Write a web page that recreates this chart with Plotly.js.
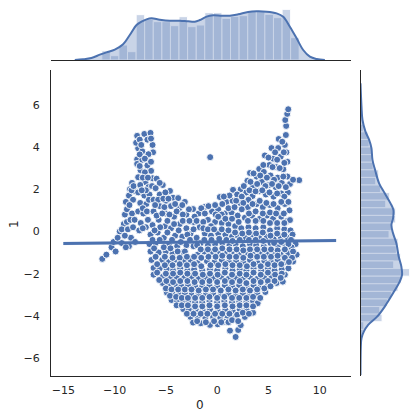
<!DOCTYPE html>
<html>
<head>
<meta charset="utf-8">
<script src="https://cdn.plot.ly/plotly-3.0.1.min.js"></script>
<style>html,body{margin:0;padding:0;background:#fff}</style>
</head>
<body>
<div id="chart" style="width:419px;height:420px"></div>
<script>
// [x, y] pairs, one list per region of the cloud
const leftArm = [[-11.2,-1.3],[-10.8,-1.1],[-10.3,-0.75],[-10.1,-0.5],[-9.9,-0.95],[-9.5,0],[-9.7,-0.3],[-9.3,-0.55],[-9.1,0.35],[-9.3,0.1],[-9,0.8],[-8.8,0.45],[-8.8,1.05],[-8.9,1.4],[-8.7,0.1],[-8.5,2],[-8.6,1.7],[-8.3,2.3],[-8.4,-0.3],[-8.6,-0.7],[-8.2,0.2],[-8.3,0.85],[-8.2,1.5],[-8,1.9],[-9,-0.2],[-8.9,-0.75],[-8.55,1.25],[-8.45,0.55],[-8,-0.5],[-8.05,0.55],[-8.35,1.95],[-8.15,2.15]];
const spike = [[-7.8,4.53],[-7.1,4.62],[-6.5,4.67],[-6.3,4.1],[-6.25,3.75],[-7.7,3.94],[-7.9,4.2],[-6.8,4.35],[-6.7,3.66],[-7.3,3.8],[-7.8,3.42],[-7.8,3.2],[-6.8,3.13],[-7.47,2.9],[-6.44,2.87],[-7.7,2.57],[-6.3,2.52],[-7,2.33],[-7.3,3.4],[-7.05,2.8],[-7.5,2.2],[-6.7,2.1],[-7.7,1.85],[-7.1,1.7],[-6.6,1.75],[-7.5,1.35],[-6.9,1.3],[-7.7,0.95],[-7.2,0.85],[-7.45,0.4],[-6.95,0.2],[-7.6,0.05],[-7.55,4.35],[-7.4,4.1],[-6.45,4.4],[-7.55,3.65],[-7.05,3.45],[-6.45,3.3],[-7.55,3.1],[-7.25,2.55],[-6.75,2.55],[-6.95,1.95],[-7.35,1.95],[-6.35,2.15],[-7.25,1.1],[-6.85,0.95],[-6.75,0.55],[-7.25,0.15],[-6.65,1.5]];
const outliers = [[-0.68,3.52],[8,2.43],[1.8,-5],[1.25,-4.7],[2.05,-4.67],[2.3,-4.44],[6.73,5],[6.64,5.28],[6.83,5.57],[6.93,5.79]];
const rightPeak = [[6.7,4.57],[6,4.38],[6.6,4.1],[5.3,3.95],[5.95,3.95],[6.75,3.75],[4.65,3.6],[5.45,3.45],[6.2,3.55],[6.85,3.3],[5.1,3.15],[4.1,2.96],[5.75,3.05],[6.45,2.95],[4.55,2.82],[3.2,2.77],[3.85,2.6],[5.2,2.65],[5.9,2.55],[6.85,2.6],[2.95,2.4],[4.35,2.35],[5.05,2.2],[6.3,2.3],[7.1,2.25],[7.4,2.45],[3.5,2.15],[5.7,2.1],[2.3,2],[1.55,1.97],[2.85,1.85],[4.1,1.9],[4.75,1.75],[6.25,1.8],[6.9,1.85],[5.5,1.65],[3.45,1.68],[6.35,4.25],[5.65,3.75],[6.5,3.75],[5,3.5],[5.85,3.4],[6.55,3.25],[4.5,3.15],[5.4,3.05],[6.1,3],[3.55,2.75],[4.2,2.65],[4.85,2.55],[5.55,2.45],[6.45,2.6],[3.25,2.35],[3.9,2.25],[4.7,2.15],[5.35,2.25],[6,2.15],[6.7,2.1],[2.6,2.15],[3.15,1.95],[3.75,1.9],[4.4,1.95],[5.1,1.85],[5.85,1.8],[6.55,1.65],[1.95,1.75],[2.4,1.65],[3.05,1.5]];
const bodyUpper = [[-5.9,2.5],[-5.3,2.2],[-6,2.05],[-5.6,1.75],[-4.6,1.92],[-5,1.45],[-6.2,1.5],[-4.3,1.6],[-3.8,1.58],[-5.6,1.2],[-4.5,1.2],[-3.15,1.4],[-3.7,1.1],[-6.2,0.95],[-5,0.85],[-2.35,1.06],[-1.2,1.16],[-3,0.8],[-4.2,0.7],[-5.7,0.55],[-1.8,0.85],[-0.5,0.95],[0.26,1.63],[0.1,1.05],[0.9,1.4],[1.5,1.45],[2.25,1.35],[3,1.15],[3.85,1.3],[4.45,1.15],[5.15,1.25],[5.9,1.1],[6.6,1.3],[7.05,1],[0.75,0.85],[1.4,0.9],[2,0.75],[2.7,0.65],[3.4,0.75],[4.15,0.6],[4.85,0.75],[5.45,0.6],[6.25,0.7],[6.85,0.5],[7.1,0.54],[-0.9,0.55],[-0.2,0.45],[0.45,0.4],[1.1,0.35],[1.75,0.25],[2.35,0.15],[3.05,0.2],[3.75,0.15],[4.5,0.2],[5.15,0.05],[5.85,0.15],[6.55,0.1],[7.15,0.05],[-6.3,0.3],[-5.1,0.25],[-4.5,0.15],[-3.65,0.35],[-3,0.15],[-2.3,0.45],[-1.7,0.2],[-6.5,-0.15],[-5.8,-0.05],[-5.2,-0.3],[-4.1,-0.2],[-3.4,-0.25],[-2.6,-0.1],[-2,-0.3],[-1.2,-0.1],[-0.6,-0.2],[0.1,-0.1],[0.8,-0.15],[1.45,-0.25],[2,-0.2],[2.8,-0.3],[3.4,-0.15],[4.1,-0.3],[4.85,-0.25],[5.5,-0.35],[6.2,-0.25],[6.9,-0.3],[7.35,-0.15]];
const bodyUpperFill = [[-5.6,2.3],[-5.05,1.85],[-5.75,1.5],[-5.25,1.55],[-4.75,1.55],[-6.05,1.25],[-5.15,1.15],[-4.1,1.3],[-3.4,1.25],[-5.9,0.75],[-5.35,0.85],[-4.65,0.8],[-3.95,0.95],[-3.35,0.8],[-2.75,1.05],[-2.2,0.7],[-1.55,1.1],[-0.85,1.2],[-0.2,1.25],[0.5,1.3],[1.2,1.7],[0.65,1.65],[1.85,1.45],[2.55,1.35],[3.45,1.3],[4.15,1.45],[4.8,1.35],[5.5,1.3],[6.25,1.4],[6.95,1.4],[-1.2,0.85],[-0.15,0.8],[0.45,0.8],[1.1,1.1],[1.7,1.15],[2.4,1.05],[3.1,0.85],[3.75,0.95],[4.45,0.85],[5.15,0.9],[5.75,0.85],[6.5,0.85],[-5.55,0.2],[-4.85,0.5],[-4.2,0.35],[-3.35,0.5],[-2.7,0.5],[-2,0.5],[-1.35,0.45],[-0.6,0.25],[0.1,0.7],[0.8,0.6],[1.45,0.6],[2.1,0.45],[3,0.5],[3.75,0.5],[4.5,0.5],[5.15,0.4],[5.85,0.4],[6.55,0.4],[-6.1,0.05],[-4.85,-0.05],[-3.75,0.05],[-2.9,-0.15],[-2.3,0.1],[-1.35,0.15],[-0.9,0.1],[-0.3,0.1],[0.45,0.1],[1.1,0.05],[1.75,-0.05],[2.45,-0.1],[3.1,-0.05],[3.8,-0.1],[4.45,-0.05],[5.2,-0.2],[5.85,-0.1],[6.55,-0.15],[7.2,-0.4]];
const bodyMiddle = [[-6.6,-0.6],[-6,-0.55],[-4.7,-0.6],[-3.9,-0.7],[-3,-0.65],[-2.3,-0.7],[-1.6,-0.55],[-0.9,-0.65],[-0.2,-0.6],[0.5,-0.55],[1.2,-0.65],[1.8,-0.6],[2.5,-0.7],[3.2,-0.6],[3.8,-0.65],[4.55,-0.7],[5.2,-0.55],[5.9,-0.7],[6.6,-0.6],[7.65,-0.6],[7.25,-0.75],[-6.5,-0.95],[-5.7,-1],[-5,-0.95],[-4.35,-1.05],[-3.5,-1],[-1.9,-1.1],[-1.25,-0.95],[-0.55,-1.05],[0.15,-1],[0.85,-1.05],[1.5,-0.95],[2.2,-1.1],[2.9,-1],[3.5,-1.1],[4.25,-1],[4.9,-1.05],[5.55,-1],[6.2,-1.1],[6.95,-1.05],[7.75,-1.1],[-6.4,-1.35],[-5.35,-1.35],[-4.7,-1.45],[-4,-1.35],[-3.25,-1.4],[-2.6,-1.35],[-1.9,-1.5],[-1,-1.4],[-0.25,-1.45],[0.45,-1.35],[1.15,-1.45],[1.85,-1.4],[2.55,-1.45],[3.2,-1.35],[3.95,-1.5],[4.6,-1.4],[5.25,-1.45],[5.9,-1.35],[6.6,-1.45],[7.4,-1.43],[-6.2,-1.73],[-5.6,-1.75],[-4.9,-1.8],[-4.3,-1.85],[-3.6,-1.75],[-2.9,-1.85],[-2.25,-1.8],[-1.45,-1.85],[-0.7,-1.8],[0,-1.85],[0.8,-1.75],[1.5,-1.85],[2.2,-1.8],[2.85,-1.85],[3.55,-1.75],[4.3,-1.85],[4.95,-1.75],[5.6,-1.85],[6.3,-1.8],[6.95,-1.75],[-6.2,-2.05],[-5.3,-2.15],[-4.6,-2.2],[-3.95,-2.15],[-3.2,-2.2],[-2.5,-2.15],[-1.8,-2.25],[-1.1,-2.2],[-0.35,-2.2],[0.4,-2.15],[1.1,-2.25],[1.85,-2.2],[2.5,-2.25],[3.2,-2.15],[3.9,-2.25],[4.6,-2.2],[5.3,-2.15],[5.95,-2.2],[6.6,-2.05]];
const bodyMiddleFill = [[-6.3,-0.4],[-5.6,-0.4],[-5.2,-0.75],[-4.4,-0.4],[-3.55,-0.5],[-2.65,-0.4],[-1.95,-0.65],[-1.25,-0.4],[-0.55,-0.4],[0.2,-0.35],[0.9,-0.4],[1.5,-0.45],[2.2,-0.4],[3.1,-0.4],[3.75,-0.4],[4.5,-0.45],[5.55,-0.55],[6.25,-0.5],[6.95,-0.6],[-6.15,-0.8],[-4.55,-0.8],[-3.85,-0.95],[-3.15,-0.95],[-1.6,-0.85],[-0.9,-0.85],[-0.2,-0.85],[0.5,-0.8],[1.2,-0.85],[1.9,-0.85],[2.55,-0.9],[3.2,-0.85],[3.9,-0.85],[4.6,-0.85],[5.25,-0.85],[5.9,-0.9],[6.6,-0.85],[7.4,-0.95],[-6,-1.2],[-5.1,-1.2],[-4.35,-1.25],[-3.65,-1.25],[-2.95,-1.2],[-2.25,-1.2],[-1.55,-1.25],[-0.85,-1.2],[-0.15,-1.2],[0.5,-1.15],[1.2,-1.2],[1.85,-1.2],[2.55,-1.25],[3.25,-1.15],[3.9,-1.2],[4.55,-1.2],[5.25,-1.2],[5.9,-1.15],[6.6,-1.25],[7.3,-1.25],[-5.85,-1.55],[-5.1,-1.6],[-4.35,-1.6],[-3.65,-1.55],[-2.95,-1.6],[-2.25,-1.55],[-1.55,-1.65],[-0.65,-1.6],[0.1,-1.6],[0.8,-1.55],[1.5,-1.6],[2.2,-1.6],[2.9,-1.65],[3.55,-1.55],[4.25,-1.65],[4.95,-1.55],[5.6,-1.6],[6.25,-1.55],[7,-1.45],[-5.85,-1.95],[-5,-2],[-4.3,-2],[-3.6,-1.95],[-2.9,-2],[-2.15,-2],[-1.4,-2.05],[-0.7,-2],[0.05,-2.05],[0.75,-1.95],[1.45,-2.05],[2.2,-2],[2.85,-2.05],[3.55,-1.95],[4.25,-2.05],[4.95,-1.95],[5.65,-2.05],[6.3,-2]];
const bodyLower = [[-5.3,-2.45],[-4.7,-2.55],[-4.1,-2.55],[-3.5,-2.6],[-2.85,-2.55],[-2.15,-2.6],[-1.45,-2.6],[-0.75,-2.55],[0,-2.6],[0.75,-2.55],[1.45,-2.6],[2.15,-2.55],[2.85,-2.6],[3.55,-2.55],[4.25,-2.6],[4.95,-2.55],[5.8,-2.44],[6.4,-2.38],[-4.9,-2.9],[-4.3,-2.95],[-3.75,-2.95],[-3.15,-2.95],[-2.5,-3],[-1.8,-2.95],[-1.1,-3],[-0.4,-2.95],[0.35,-3],[1.1,-2.95],[1.8,-3],[2.5,-2.95],[3.2,-3],[3.9,-2.95],[4.7,-2.87],[-4.45,-3.25],[-3.9,-3.3],[-3.3,-3.35],[-2.8,-3.3],[-2.15,-3.35],[-1.45,-3.35],[-0.75,-3.3],[0,-3.35],[0.7,-3.3],[1.45,-3.35],[2.15,-3.3],[2.85,-3.35],[3.5,-3.3],[3.95,-3.4],[-3.3,-3.68],[-2.75,-3.7],[-2.1,-3.7],[-1.4,-3.75],[-0.7,-3.7],[0.05,-3.75],[0.8,-3.7],[1.5,-3.75],[2.2,-3.7],[2.85,-3.7],[3.5,-3.85],[-2.6,-4.05],[-1.9,-4.05],[-1.15,-4.1],[-0.4,-4.05],[0.3,-4.1],[1,-4.05],[1.7,-4.1],[2.7,-4.05],[-2.35,-4.32],[-1.6,-4.35],[-0.7,-4.43],[0.05,-4.4],[0.75,-4.28]];
const bodyLowerFill = [[-5.65,-2.3],[-4.95,-2.35],[-4.3,-2.4],[-3.6,-2.35],[-2.9,-2.35],[-2.2,-2.4],[-1.45,-2.4],[-0.75,-2.35],[0,-2.4],[0.75,-2.35],[1.45,-2.4],[2.2,-2.35],[2.85,-2.45],[3.55,-2.35],[4.25,-2.4],[4.95,-2.35],[5.6,-2.35],[6.2,-2.2],[-5,-2.7],[-4.45,-2.75],[-3.8,-2.75],[-3.15,-2.75],[-2.5,-2.75],[-1.8,-2.8],[-1.1,-2.75],[-0.4,-2.75],[0.35,-2.8],[1.1,-2.75],[1.8,-2.8],[2.5,-2.75],[3.2,-2.8],[3.9,-2.75],[4.6,-2.7],[5.2,-2.6],[-4.6,-3.05],[-4,-3.1],[-3.45,-3.15],[-2.85,-3.15],[-2.15,-3.15],[-1.45,-3.15],[-0.75,-3.1],[0,-3.15],[0.7,-3.1],[1.45,-3.15],[2.15,-3.15],[2.85,-3.15],[3.5,-3.1],[4.2,-3.15],[-3.95,-3.5],[-3.45,-3.5],[-2.85,-3.5],[-2.15,-3.55],[-1.45,-3.55],[-0.75,-3.5],[0,-3.55],[0.75,-3.5],[1.5,-3.55],[2.2,-3.5],[2.85,-3.5],[3.5,-3.55],[-2.95,-3.9],[-2.3,-3.9],[-1.6,-3.9],[-0.95,-3.9],[-0.2,-3.9],[0.5,-3.9],[1.2,-3.9],[1.95,-3.95],[2.5,-3.85],[3.1,-3.9],[-1.95,-4.25],[-1.1,-4.3],[-0.3,-4.25],[0.4,-4.3],[1.1,-4.3],[1.45,-4.2],[2.05,-4.25]];

// marginal histograms, heights in the same arbitrary unit as the kde curves
const topBinCenters = [-10.83,-9.99,-9.16,-8.32,-7.48,-6.65,-5.81,-4.97,-4.14,-3.3,-2.46,-1.62,-0.79,0.05,0.89,1.72,2.56,3.4,4.24,5.07,5.91,6.75,7.58];
const topBinHeights = [28,13,45,25,136,122,115,115,103,130,100,105,142,142,125,131,133,147,147,137,127,152,67];
const topKdeX = [-13.88,-13.07,-12.26,-11.44,-10.79,-9.98,-9.17,-8.52,-7.86,-7.38,-6.89,-6.4,-5.59,-4.61,-3.64,-2.83,-2.18,-1.69,-1.03,-0.39,0.43,1.24,2.05,3.02,3.84,4.82,5.8,6.44,7.09,7.75,8.39,9.04,9.7,10.5];
const topKdeY = [0,2,6,16,23,31,47,75,105,115,122,125,121,118,118,116,115,120,130,134,133,133,137,144,146,145,140,130,100,65,30,10,3,0];
const rightBinCenters = [5.62,5.26,4.9,4.54,4.18,3.82,3.46,3.1,2.74,2.38,2.02,1.66,1.3,0.94,0.58,0.22,-0.14,-0.5,-0.86,-1.22,-1.58,-1.94,-2.3,-2.66,-3.02,-3.38,-3.74,-4.1,-4.46,-4.82];
const rightBinWidths = [3,4,8,23,26,33,33,38,55,46,60,88,76,106,106,93,86,113,108,121,100,148,123,113,93,81,58,65,10,8];
const rightKdeY = [7.02,5.92,5.28,4.73,4.34,3.94,3.39,2.91,2.28,1.81,1.34,1.02,0.62,0.31,-0.09,-0.56,-1.19,-1.67,-2.06,-2.38,-2.93,-3.56,-4.04,-4.43,-4.75,-5.06,-5.46,-6.8];
const rightKdeX = [0,3,6,15,26,33,36,44,56,73,90,99,98,93,98,108,115,123,125,118,98,73,50,23,10,3,1,0];

// regression line and its narrow band
const regX = [-15,11.6];
const regY = [-0.57,-0.43];
const bandX = [-15,-2,11.6,11.6,-2,-15];
const bandY = [-0.49,-0.46,-0.35,-0.51,-0.54,-0.65];

const allPoints = [].concat(leftArm, spike, outliers, rightPeak, bodyUpper, bodyUpperFill, bodyMiddle, bodyMiddleFill, bodyLower, bodyLowerFill);
const blue = '#4c72b0';
const ink = '#262626';

var data = [
  {
    x: allPoints.map(p => p[0]),
    y: allPoints.map(p => p[1]),
    type: 'scatter',
    mode: 'markers',
    marker: {size: 7, color: blue, line: {color: 'rgba(255,255,255,0.9)', width: 1}},
    hoverinfo: 'skip'
  },
  {x: bandX, y: bandY, type: 'scatter', mode: 'lines', fill: 'toself', fillcolor: 'rgba(76,114,176,0.15)', line: {width: 0}},
  {x: regX, y: regY, type: 'scatter', mode: 'lines', line: {color: blue, width: 3}},
  {
    x: topBinCenters, y: topBinHeights, type: 'bar', xaxis: 'x2', yaxis: 'y2', width: 0.836,
    marker: {color: 'rgba(76,114,176,0.3)', line: {color: '#fff', width: 1}}
  },
  {x: topKdeX, y: topKdeY, type: 'scatter', mode: 'lines', xaxis: 'x2', yaxis: 'y2', fill: 'tozeroy', fillcolor: 'rgba(76,114,176,0.3)', line: {color: blue, width: 2, shape: 'spline'}},
  {
    x: rightBinWidths, y: rightBinCenters, type: 'bar', orientation: 'h', xaxis: 'x3', yaxis: 'y3', width: 0.36,
    marker: {color: 'rgba(76,114,176,0.3)', line: {color: '#fff', width: 1}}
  },
  {x: rightKdeX, y: rightKdeY, type: 'scatter', mode: 'lines', xaxis: 'x3', yaxis: 'y3', fill: 'tozerox', fillcolor: 'rgba(76,114,176,0.3)', line: {color: blue, width: 2, shape: 'spline'}}
];

var tickFont = {family: 'DejaVu Sans, sans-serif', size: 11, color: ink};
var titleFont = {family: 'DejaVu Sans, sans-serif', size: 12, color: ink};

var layout = {
  width: 419,
  height: 420,
  margin: {l: 0, r: 0, t: 0, b: 0},
  paper_bgcolor: '#fff',
  plot_bgcolor: '#fff',
  showlegend: false,
  barmode: 'overlay',
  xaxis: {
    domain: [51/419, 351/419], range: [-16.2, 13.05], anchor: 'y',
    tickvals: [-15,-10,-5,0,5,10], showgrid: false, zeroline: false,
    showline: true, linecolor: ink, linewidth: 1.25,
    ticks: 'outside', ticklen: 4, tickcolor: 'rgba(0,0,0,0)', tickfont: tickFont
  },
  yaxis: {
    domain: [44/420, 350/420], range: [-6.85, 7.65], anchor: 'x',
    tickvals: [-6,-4,-2,0,2,4,6], showgrid: false, zeroline: false,
    showline: true, linecolor: ink, linewidth: 1.25,
    ticks: 'outside', ticklen: 8, tickcolor: 'rgba(0,0,0,0)', tickfont: tickFont
  },
  xaxis2: {domain: [51/419, 351/419], range: [-16.2, 13.05], anchor: 'y2', showticklabels: false, showgrid: false, zeroline: false, showline: true, linecolor: ink, linewidth: 1.25, ticks: ''},
  yaxis2: {domain: [360/420, 412/420], range: [0, 156], anchor: 'x2', visible: false},
  xaxis3: {domain: [360.5/419, 412/419], range: [0, 155], anchor: 'y3', visible: false},
  yaxis3: {domain: [44/420, 350/420], range: [-6.85, 7.65], anchor: 'x3', showticklabels: false, showgrid: false, zeroline: false, showline: true, linecolor: ink, linewidth: 1.25, ticks: ''},
  annotations: [
    {text: '0', xref: 'paper', yref: 'paper', x: 200/419, y: 15/420, xanchor: 'center', yanchor: 'middle', showarrow: false, font: titleFont},
    {text: '1', xref: 'paper', yref: 'paper', x: 14/419, y: 196/420, xanchor: 'center', yanchor: 'middle', textangle: -90, showarrow: false, font: titleFont}
  ]
};

Plotly.newPlot('chart', data, layout, {displayModeBar: false});
</script>
</body>
</html>
